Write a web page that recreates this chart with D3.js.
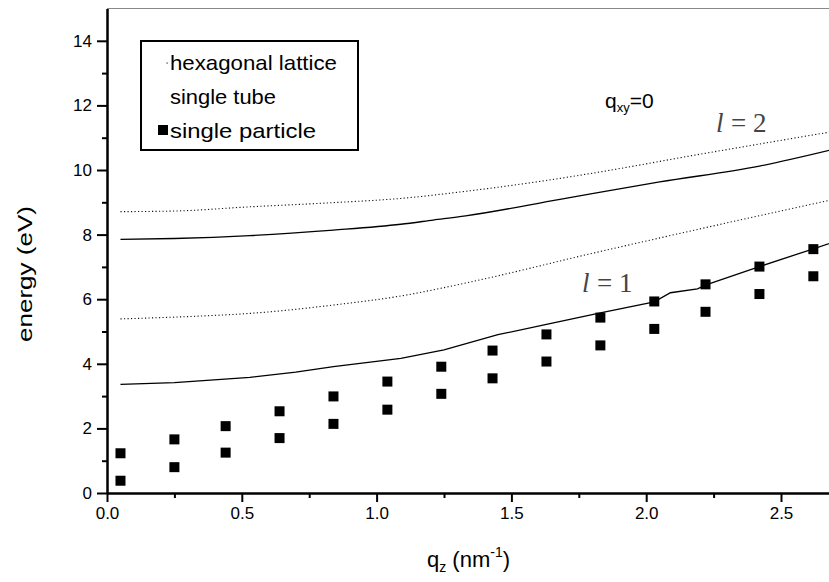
<!DOCTYPE html>
<html><head><meta charset="utf-8">
<script src="https://cdn.jsdelivr.net/npm/d3@7"></script>
<style>
html,body{margin:0;padding:0;background:#fff;}
svg{display:block;font-family:"Liberation Sans",Arial,Helvetica,sans-serif;}
</style></head>
<body>
<svg id="chart" width="829" height="582"></svg>
<script>
// ---- data ----
const qPoints = [0.05, 0.25, 0.44, 0.64, 0.84, 1.04, 1.24, 1.43, 1.63, 1.83, 2.03, 2.22, 2.42, 2.62];
const particleUpper = [1.23, 1.66, 2.07, 2.53, 2.99, 3.45, 3.91, 4.41, 4.91, 5.43, 5.93, 6.46, 7.01, 7.55];
const particleLower = [0.38, 0.80, 1.25, 1.70, 2.14, 2.58, 3.07, 3.55, 4.07, 4.57, 5.08, 5.61, 6.16, 6.71];

const hexL2 = [[0.05,8.71],[0.25,8.73],[0.53,8.86],[0.84,8.99],[1.09,9.12],[1.33,9.34],[1.6,9.64],[1.8,9.9],[2.18,10.46],[2.7,11.2]];
const tubeL2 = [[0.05,7.85],[0.25,7.88],[0.53,7.97],[0.84,8.14],[1.09,8.32],[1.21,8.45],[1.33,8.58],[1.68,9.09],[2.05,9.63],[2.42,10.12],[2.7,10.65]];
const hexL1 = [[0.05,5.39],[0.35,5.48],[0.53,5.56],[0.84,5.82],[1.09,6.10],[1.33,6.50],[1.8,7.42],[2.18,8.14],[2.7,9.1]];
const tubeL1 = [[0.05,3.36],[0.25,3.42],[0.53,3.58],[0.7,3.74],[0.84,3.91],[1.09,4.17],[1.25,4.43],[1.45,4.90],[1.63,5.22],[1.83,5.58],[2.03,5.92],[2.09,6.20],[2.19,6.32],[2.23,6.47],[2.42,7.01],[2.62,7.56],[2.7,7.78]];

const xMajor = [0, 0.5, 1.0, 1.5, 2.0, 2.5];
const xMinor = [0.25, 0.75, 1.25, 1.75, 2.25];
const yMajor = [0, 2, 4, 6, 8, 10, 12, 14];
const yMinor = [1, 3, 5, 7, 9, 11, 13];
const legendLabels = ["hexagonal lattice", "single tube", "single particle"];

// ---- layout ----
const svg = d3.select("#chart");
const x0 = 107, yBase = 493;
const x = d3.scaleLinear().domain([0, 2.7]).range([x0, x0 + 2.7 * 269.6]);
const y = d3.scaleLinear().domain([0, 15]).range([yBase, yBase - 15 * 32.3]);

svg.append("defs").append("clipPath").attr("id","clip")
  .append("rect").attr("x", x0).attr("y", y(15)).attr("width", 829 - x0).attr("height", yBase - y(15));

// top frame line
svg.append("line").attr("x1", x0).attr("x2", 829).attr("y1", y(15)).attr("y2", y(15))
  .attr("stroke", "#888").attr("stroke-width", 1.2);

// axes
function styleAxis(g){
  g.select(".domain").attr("stroke","#000").attr("stroke-width",2);
  g.selectAll(".tick line").attr("stroke","#000").attr("stroke-width",2);
  g.selectAll(".tick text").attr("fill","#000").attr("font-size","17px")
    .attr("font-family",'"Liberation Sans",Arial,sans-serif');
}
const gxMinor = svg.append("g").attr("transform",`translate(0,${yBase})`)
  .call(d3.axisBottom(x).tickValues(xMinor).tickSize(5).tickSizeOuter(0).tickFormat(""));
styleAxis(gxMinor);
const gx = svg.append("g").attr("transform",`translate(0,${yBase})`)
  .call(d3.axisBottom(x).tickValues(xMajor).tickSize(9).tickSizeOuter(0).tickPadding(5).tickFormat(d3.format(".1f")));
styleAxis(gx);
const gyMinor = svg.append("g").attr("transform",`translate(${x0},0)`)
  .call(d3.axisLeft(y).tickValues(yMinor).tickSize(5).tickSizeOuter(0).tickFormat(""));
styleAxis(gyMinor);
const gy = svg.append("g").attr("transform",`translate(${x0},0)`)
  .call(d3.axisLeft(y).tickValues(yMajor).tickSize(10).tickSizeOuter(0).tickPadding(5).tickFormat(d3.format("d")));
styleAxis(gy);

// lines
const smooth = d3.line().x(d => x(d[0])).y(d => y(d[1])).curve(d3.curveMonotoneX);
const straight = d3.line().x(d => x(d[0])).y(d => y(d[1]));
const plot = svg.append("g").attr("clip-path","url(#clip)");
[hexL2, hexL1].forEach(s => plot.append("path").attr("d", smooth(s)).attr("fill","none")
  .attr("stroke","#111").attr("stroke-width",1.1).attr("stroke-dasharray","1.2,2.3"));
plot.append("path").attr("d", smooth(tubeL2)).attr("fill","none").attr("stroke","#000").attr("stroke-width",1.3);
plot.append("path").attr("d", straight(tubeL1)).attr("fill","none").attr("stroke","#000").attr("stroke-width",1.3);

// squares
const sz = 10;
[particleUpper, particleLower].forEach(vals => {
  plot.selectAll(null).data(vals.map((v,i)=>[qPoints[i], v])).enter().append("rect")
    .attr("x", d => x(d[0]) - sz/2).attr("y", d => y(d[1]) - sz/2)
    .attr("width", sz).attr("height", sz).attr("fill","#000");
});

// legend
svg.append("rect").attr("x",141).attr("y",41).attr("width",217).attr("height",109)
  .attr("fill","#fff").attr("stroke","#000").attr("stroke-width",2);
const legLens = [167, 106, 146];
const legY = [70, 104, 138];
legendLabels.forEach((t,i) => {
  svg.append("text").attr("x",170).attr("y",legY[i]).attr("font-size","21px")
    .attr("textLength", legLens[i]).attr("lengthAdjust","spacingAndGlyphs").text(t);
});
svg.append("rect").attr("x",166.5).attr("y",62.5).attr("width",1.2).attr("height",1.2).attr("fill","#333");
svg.append("rect").attr("x",158).attr("y",125).attr("width",10).attr("height",10).attr("fill","#000");

// annotation q_xy=0
const qa = svg.append("text").attr("x",605).attr("y",108).attr("font-size","21px");
qa.append("tspan").text("q");
qa.append("tspan").attr("font-size","13px").attr("dy",4).text("xy");
qa.append("tspan").attr("dy",-4).text("=0");

// l labels
function lLabel(xl, yl, num){
  const g = svg.append("g").attr("fill","#444").attr("font-family",'"Liberation Serif","DejaVu Serif",serif').attr("font-size","27px");
  g.append("text").attr("x",xl).attr("y",yl).attr("font-style","italic").text("l");
  g.append("text").attr("x",xl+15).attr("y",yl).text("=");
  g.append("text").attr("x",xl+37).attr("y",yl).text(num);
}
lLabel(716, 132, "2");
lLabel(582, 292, "1");

// axis titles
const xt = svg.append("text").attr("x",427).attr("y",567).attr("font-size","22px");
xt.append("tspan").text("q");
xt.append("tspan").attr("font-size","14px").attr("dy",5).text("z");
xt.append("tspan").attr("dy",-5).text(" (nm");
xt.append("tspan").attr("font-size","14px").attr("dy",-10).text("-1");
xt.append("tspan").attr("dy",10).text(")");

svg.append("text").attr("transform","translate(32,274) rotate(-90)").attr("text-anchor","middle")
  .attr("font-size","20px").attr("textLength",136).attr("lengthAdjust","spacingAndGlyphs").text("energy (eV)");
</script>
</body></html>
